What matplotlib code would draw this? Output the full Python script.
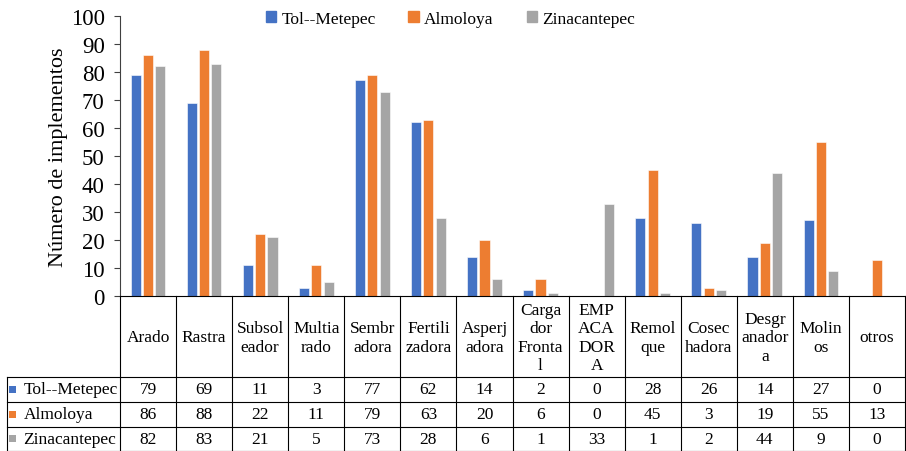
import matplotlib.pyplot as plt
import matplotlib.transforms as mtransforms
from matplotlib.patches import Patch, Rectangle
import numpy as np

plt.rcParams['font.family'] = ['Liberation Serif', 'DejaVu Serif']

# datos
categorias = ["Arado", "Rastra", "Subsol\neador", "Multia\nrado", "Sembr\nadora",
              "Fertili\nzadora", "Asperj\nadora", "Carga\ndor\nFronta\nl",
              "EMP\nACA\nDOR\nA", "Remol\nque", "Cosec\nhadora",
              "Desgr\nanador\na", "Molin\nos", "otros"]
series = ["Tol--Metepec", "Almoloya", "Zinacantepec"]
tol_metepec = [79, 69, 11, 3, 77, 62, 14, 2, 0, 28, 26, 14, 27, 0]
almoloya = [86, 88, 22, 11, 79, 63, 20, 6, 0, 45, 3, 19, 55, 13]
zinacantepec = [82, 83, 21, 5, 73, 28, 6, 1, 33, 1, 2, 44, 9, 0]
valores = [tol_metepec, almoloya, zinacantepec]
colores = ["#4472C4", "#ED7D31", "#A5A5A5"]

W, H = 906, 452
fig = plt.figure(figsize=(W / 100, H / 100), dpi=100)

# layout in pixels
ax_left, ax_right = 120.0, 905
ax_top, ax_bottom = 17, 297
header_bottom = 378
row_lines = [378, 403, 428, 451.5]
label_left = 6.5

ax = fig.add_axes([ax_left / W, 1 - ax_bottom / H,
                   (ax_right - ax_left) / W, (ax_bottom - ax_top) / H])

x = np.arange(len(categorias))
ancho = 0.18
paso = 0.22
for i, (nombre, vals, c) in enumerate(zip(series, valores, colores)):
    ax.bar(x + (i - 1) * paso, vals, width=ancho, color=c, label=nombre,
           edgecolor='white', linewidth=0.4)

ax.set_xlim(-0.5, len(categorias) - 0.5)
ax.set_ylim(0, 100)
ax.set_yticks(range(0, 101, 10))
ax.tick_params(axis='y', labelsize=16.5, length=4, width=0.8, color='#404040', pad=7)
ax.set_xticks([])
for s in ['top', 'right', 'bottom']:
    ax.spines[s].set_visible(False)
ax.spines['left'].set_color('#404040')
ax.spines['left'].set_linewidth(0.8)
ax.set_ylabel("Número de implementos", fontsize=16, labelpad=2)

# table
fy = lambda p: 1 - p / H
fx = lambda p: p / W
blend = mtransforms.blended_transform_factory(ax.transData, fig.transFigure)
lc = 'black'
lw = 0.8

# vertical column lines
for b in np.arange(len(categorias) + 1) - 0.5:
    fig.add_artist(plt.Line2D([b, b], [fy(ax_bottom), fy(row_lines[-1])],
                              transform=blend, color=lc, lw=lw))
# top line of table
fig.add_artist(plt.Line2D([fx(ax_left), fx(ax_right)], [fy(ax_bottom)] * 2,
                          transform=fig.transFigure, color=lc, lw=lw))
# row lines
for r in row_lines:
    fig.add_artist(plt.Line2D([fx(label_left), fx(ax_right)], [fy(r)] * 2,
                              transform=fig.transFigure, color=lc, lw=lw))
fig.add_artist(plt.Line2D([fx(label_left)] * 2, [fy(row_lines[0]), fy(row_lines[-1])],
                          transform=fig.transFigure, color=lc, lw=lw))

# header labels
for xi, cat in zip(x, categorias):
    fig.text(xi, fy((ax_bottom + header_bottom) / 2 + 1), cat, transform=blend,
             ha='center', va='center', fontsize=12.5, linespacing=1.2)

# data rows
for k, (nombre, vals, c) in enumerate(zip(series, valores, colores)):
    yc = fy((row_lines[k] + row_lines[k + 1]) / 2)
    fig.add_artist(Rectangle((fx(8.5), yc - 3.5 / H), 7 / W, 7 / H,
                             transform=fig.transFigure, color=c, lw=0))
    fig.text(fx(23.5), yc, nombre, ha='left', va='center', fontsize=12.5)
    for xi, v in zip(x, vals):
        fig.text(xi, yc, str(v), transform=blend, ha='center', va='center',
                 fontsize=12.5)

# legend
handles = [Patch(color=c, label=n) for n, c in zip(series, colores)]
fig.legend(handles=handles, loc='center', bbox_to_anchor=(0.497, 1 - 20 / H),
           ncol=3, frameon=False, fontsize=12.5, handlelength=0.6,
           handleheight=0.6, handletextpad=0.3, columnspacing=1.9)

fig.savefig("out.png", dpi=100)
